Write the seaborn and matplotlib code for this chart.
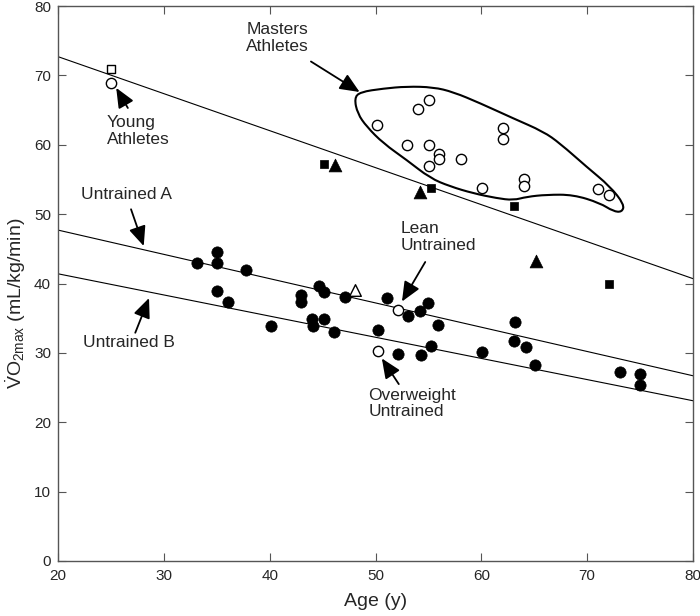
import numpy as np
import matplotlib
matplotlib.use("Agg")
import matplotlib.pyplot as plt
from matplotlib.path import Path
from matplotlib.patches import PathPatch
import seaborn as sns

# ----------------------------------------------------------------------
# DATA
# ----------------------------------------------------------------------
# young athletes
young_circle_age = [25.0]
young_circle_vo2 = [68.9]
young_square_age = [25.0]
young_square_vo2 = [70.9]

# masters athletes (open circles inside the outline)
masters_age = [50.1, 54.0, 55.1, 53.0, 55.1, 56.0, 56.0, 55.1, 58.1, 62.0, 62.0,
               60.1, 64.0, 64.0, 71.0, 72.1]
masters_vo2 = [62.9, 65.1, 66.4, 59.9, 59.9, 58.7, 57.9, 57.0, 57.9, 62.4, 60.9,
               53.7, 55.1, 54.0, 53.6, 52.8]

# other trained groups
sq_age = [45.1, 55.2, 63.1, 72.1]
sq_vo2 = [57.2, 53.8, 51.1, 40.0]
tri_age = [46.2, 54.2, 65.2]
tri_vo2 = [57.1, 53.2, 43.2]
open_tri_age = [48.1]
open_tri_vo2 = [39.0]

# lean / overweight untrained
lean_age, lean_vo2 = [52.1], [36.2]
over_age, over_vo2 = [50.2], [30.3]

# untrained (filled circles)
untrained_age = [33.1, 35.0, 35.0, 37.8, 35.0, 36.1, 40.1, 43.0, 43.0, 44.0, 44.1,
                 45.1, 46.1, 44.7, 45.1, 47.1, 51.1, 53.1, 54.2, 55.0, 55.9, 50.2,
                 52.1, 54.3, 55.2, 60.1, 63.2, 63.1, 64.2, 65.1, 73.1, 75.0, 75.0]
untrained_vo2 = [43.0, 44.5, 42.9, 41.9, 38.9, 37.3, 33.9, 38.4, 37.3, 34.9, 33.9,
                 34.9, 33.0, 39.7, 38.8, 38.0, 37.9, 35.3, 36.1, 37.2, 34.0, 33.3,
                 29.9, 29.7, 31.0, 30.1, 34.4, 31.7, 30.9, 28.3, 27.3, 26.9, 25.3]

# regression lines (end points)
line_age = [20, 80]
athlete_line = [72.7, 40.7]
untrained_a_line = [47.7, 26.7]
untrained_b_line = [41.4, 23.1]

# outline drawn around the masters athletes (control points)
blob_age = [48.54, 50.74, 52.95, 55.46, 57.35, 59.87, 63.02, 65.86, 67.43, 69.96,
            72.16, 73.50, 73.30, 72.47, 71.21, 68.69, 66.18, 64.29, 63.02, 61.45,
            59.24, 57.04, 55.15, 52.95, 50.74, 49.17, 48.30, 48.00]
blob_vo2 = [67.6, 68.1, 68.4, 68.3, 67.6, 66.0, 63.8, 61.9, 60.2, 56.8,
            54.0, 51.4, 50.3, 50.4, 51.6, 52.8, 52.8, 52.5, 52.0, 52.3,
            53.0, 54.0, 55.2, 57.8, 60.2, 62.6, 64.5, 66.7]

# labels: text, text position (left/top), arrow start, arrow tip
labels = ["Masters\nAthletes", "Young\nAthletes", "Untrained A", "Untrained B",
          "Lean\nUntrained", "Overweight\nUntrained"]
label_xy = [(37.8, 77.7), (24.6, 64.3), (22.2, 53.9), (22.4, 32.6),
            (52.35, 49.05), (49.35, 25.0)]
arrow_from = [(43.9, 72.0), (26.6, 65.3), (26.9, 50.7), (27.3, 32.9),
              (54.7, 43.1), (52.2, 25.5)]
arrow_to = [(48.5, 67.6), (25.5, 68.2), (28.1, 45.4), (28.6, 37.9),
            (52.5, 37.4), (50.6, 29.2)]

# ----------------------------------------------------------------------
# STYLE
# ----------------------------------------------------------------------
sns.set_style("ticks")
plt.rcParams["font.family"] = ["Liberation Sans", "DejaVu Sans"]
plt.rcParams["mathtext.fontset"] = "custom"
plt.rcParams["mathtext.rm"] = "Liberation Sans"
plt.rcParams["mathtext.it"] = "Liberation Sans:italic"

fig = plt.figure(figsize=(7.0, 6.16), dpi=100)
ax = fig.add_axes([58 / 700, 1 - 561 / 616, 635 / 700, 555 / 616])

# lines
for yv in [athlete_line, untrained_a_line, untrained_b_line]:
    sns.lineplot(x=line_age, y=yv, color="black", lw=0.8, ax=ax)

# masters outline: smooth closed curve through quadratic bezier segments
pts = np.column_stack([blob_age, blob_vo2])
mids = (pts + np.roll(pts, -1, axis=0)) / 2
verts = [mids[-1]]
codes = [Path.MOVETO]
for i in range(len(pts)):
    verts += [pts[i], mids[i]]
    codes += [Path.CURVE3, Path.CURVE3]
ax.add_patch(PathPatch(Path(verts, codes), facecolor="none", edgecolor="black",
                       lw=1.5, zorder=2))

# points
sns.scatterplot(x=untrained_age, y=untrained_vo2, marker="o", s=66,
                color="black", edgecolor="black", linewidth=0.5, ax=ax, zorder=3)
sns.scatterplot(x=masters_age + young_circle_age + lean_age + over_age,
                y=masters_vo2 + young_circle_vo2 + lean_vo2 + over_vo2,
                marker="o", s=55, color="white", edgecolor="black",
                linewidth=1.0, ax=ax, zorder=3)
sns.scatterplot(x=sq_age, y=sq_vo2, marker="s", s=36, color="black",
                edgecolor="black", linewidth=0.5, ax=ax, zorder=3)
sns.scatterplot(x=young_square_age, y=young_square_vo2, marker="s", s=36,
                color="white", edgecolor="black", linewidth=1.0, ax=ax, zorder=3)
sns.scatterplot(x=tri_age, y=tri_vo2, marker="^", s=85, color="black",
                edgecolor="black", linewidth=0.5, ax=ax, zorder=3)
sns.scatterplot(x=open_tri_age, y=open_tri_vo2, marker="^", s=70, color="white",
                edgecolor="black", linewidth=1.0, ax=ax, zorder=3)

# annotations
for txt, (tx, ty), start, tip in zip(labels, label_xy, arrow_from, arrow_to):
    ax.text(tx, ty, txt, ha="left", va="top", fontsize=12.5, linespacing=1.15)
    ax.annotate("", xy=tip, xytext=start,
                arrowprops=dict(arrowstyle="-|>,head_length=0.6,head_width=0.26",
                                mutation_scale=20, color="black", lw=1.3,
                                shrinkA=0, shrinkB=0))

# axes
ax.set_xlim(20, 80)
ax.set_ylim(0, 80)
ax.set_xticks(np.arange(20, 81, 10))
ax.set_yticks(np.arange(0, 81, 10))
ax.tick_params(direction="in", length=6, width=0.8, color="#555555",
               top=True, right=True, labelsize=11, pad=5)
ax.tick_params(axis="x", pad=6)
for sp in ax.spines.values():
    sp.set_visible(True)
    sp.set_color("#555555")
    sp.set_linewidth(1.0)

ax.set_xlabel("Age (y)", fontsize=14)
ax.set_ylabel(r"$\dot{\mathrm{V}}\mathrm{O}_{2\mathrm{max}}$ (mL/kg/min)", fontsize=14)
ax.xaxis.set_label_coords(0.5, -0.058)
ax.yaxis.set_label_coords(-0.047, 0.464)

fig.savefig("out.png", dpi=100)
plt.close(fig)
